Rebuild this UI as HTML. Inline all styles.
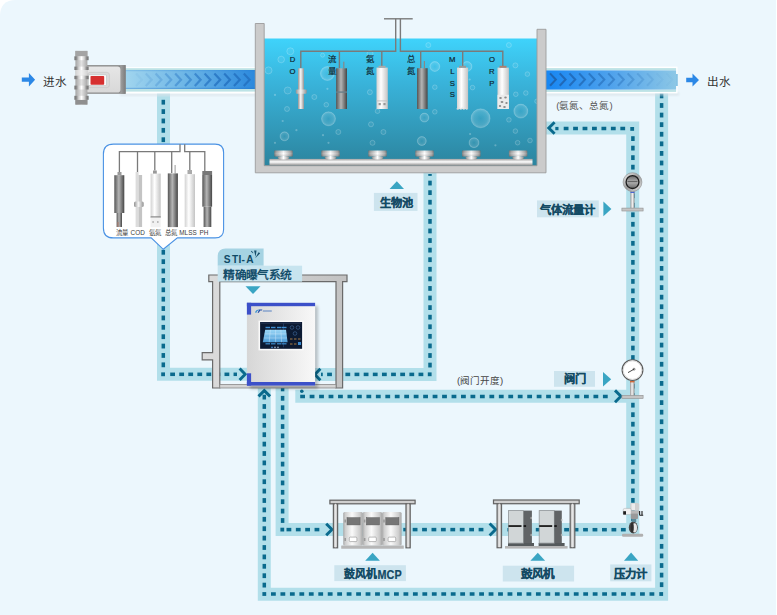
<!DOCTYPE html>
<html lang="zh-CN"><head><meta charset="utf-8">
<style>
html,body{margin:0;padding:0;background:#fff;}
body{width:777px;height:615px;overflow:hidden;position:relative;font-family:"Liberation Sans",sans-serif;}
svg{position:absolute;left:0;top:0;}
</style></head>
<body>
<svg width="777" height="615" viewBox="0 0 777 615" font-family="Liberation Sans, sans-serif">
<defs>
  <linearGradient id="water" x1="0" y1="0" x2="0" y2="1">
    <stop offset="0" stop-color="#3fd3fb"/>
    <stop offset="0.35" stop-color="#39b3da"/>
    <stop offset="1" stop-color="#2c849e"/>
  </linearGradient>
  <linearGradient id="pipeL" x1="0" y1="0" x2="1" y2="0">
    <stop offset="0" stop-color="#a6d8ef"/>
    <stop offset="0.5" stop-color="#6ab4e6"/>
    <stop offset="1" stop-color="#2a88dd"/>
  </linearGradient>
  <linearGradient id="pipeR" x1="0" y1="0" x2="1" y2="0">
    <stop offset="0" stop-color="#1686f3"/>
    <stop offset="0.5" stop-color="#4fa2ec"/>
    <stop offset="1" stop-color="#8cc7e6"/>
  </linearGradient>
  <linearGradient id="metalH" x1="0" y1="0" x2="0" y2="1">
    <stop offset="0" stop-color="#a0a0a0"/>
    <stop offset="0.45" stop-color="#ffffff"/>
    <stop offset="1" stop-color="#8f8f8f"/>
  </linearGradient>
  <linearGradient id="metalV" x1="0" y1="0" x2="1" y2="0">
    <stop offset="0" stop-color="#939393"/>
    <stop offset="0.45" stop-color="#f6f6f6"/>
    <stop offset="1" stop-color="#939393"/>
  </linearGradient>
  <linearGradient id="flangeV" x1="0" y1="0" x2="1" y2="0">
    <stop offset="0" stop-color="#a4a4a4"/>
    <stop offset="0.5" stop-color="#e2e2e2"/>
    <stop offset="1" stop-color="#a8a8a8"/>
  </linearGradient>
  <linearGradient id="unitV" x1="0" y1="0" x2="1" y2="0">
    <stop offset="0" stop-color="#a9a9a9"/>
    <stop offset="0.12" stop-color="#cfcfcf"/>
    <stop offset="0.45" stop-color="#fafafa"/>
    <stop offset="0.85" stop-color="#cdcdcd"/>
    <stop offset="1" stop-color="#a5a5a5"/>
  </linearGradient>
  <linearGradient id="darkV" x1="0" y1="0" x2="1" y2="0">
    <stop offset="0" stop-color="#555"/>
    <stop offset="0.45" stop-color="#b5b5b5"/>
    <stop offset="1" stop-color="#464646"/>
  </linearGradient>
  <linearGradient id="whiteV" x1="0" y1="0" x2="1" y2="0">
    <stop offset="0" stop-color="#d2d2d2"/>
    <stop offset="0.4" stop-color="#ffffff"/>
    <stop offset="1" stop-color="#c4c4c4"/>
  </linearGradient>
  <linearGradient id="cab" x1="0" y1="0" x2="1" y2="0">
    <stop offset="0" stop-color="#d6d6d6"/>
    <stop offset="1" stop-color="#f8f8f8"/>
  </linearGradient>
  <radialGradient id="gaugeRim" cx="0.5" cy="0.5" r="0.5">
    <stop offset="0.8" stop-color="#e0e0e0"/>
    <stop offset="1" stop-color="#707070"/>
  </radialGradient>
  <linearGradient id="ringG" x1="0" y1="0" x2="1" y2="1">
    <stop offset="0" stop-color="#f4f4f4"/>
    <stop offset="0.5" stop-color="#9a9a9a"/>
    <stop offset="1" stop-color="#e8e8e8"/>
  </linearGradient>
  <linearGradient id="faceG" x1="0" y1="0" x2="0" y2="1">
    <stop offset="0" stop-color="#6a6a6a"/>
    <stop offset="0.5" stop-color="#b0b0b0"/>
    <stop offset="1" stop-color="#6a6a6a"/>
  </linearGradient>
  <radialGradient id="bubG" cx="0.5" cy="0.5" r="0.5">
    <stop offset="0" stop-color="#ffffff" stop-opacity="0.02"/>
    <stop offset="0.7" stop-color="#ffffff" stop-opacity="0.12"/>
    <stop offset="1" stop-color="#ffffff" stop-opacity="0.28"/>
  </radialGradient>
  <linearGradient id="ringV" x1="0" y1="0" x2="1" y2="0">
    <stop offset="0" stop-color="#6e6e6e"/>
    <stop offset="0.14" stop-color="#8a8a8a"/>
    <stop offset="0.3" stop-color="#cfcfcf"/>
    <stop offset="0.5" stop-color="#ffffff"/>
    <stop offset="0.7" stop-color="#cfcfcf"/>
    <stop offset="0.86" stop-color="#8a8a8a"/>
    <stop offset="1" stop-color="#6e6e6e"/>
  </linearGradient>
  <linearGradient id="diffSide" x1="0" y1="0" x2="1" y2="0">
    <stop offset="0" stop-color="#606060" stop-opacity="0.6"/>
    <stop offset="0.25" stop-color="#ffffff" stop-opacity="0"/>
    <stop offset="0.75" stop-color="#ffffff" stop-opacity="0"/>
    <stop offset="1" stop-color="#606060" stop-opacity="0.6"/>
  </linearGradient>
  <linearGradient id="diffH" x1="0" y1="0" x2="1" y2="0">
    <stop offset="0" stop-color="#7a7a7a"/>
    <stop offset="0.12" stop-color="#a8a8a8"/>
    <stop offset="0.5" stop-color="#ffffff"/>
    <stop offset="0.88" stop-color="#a8a8a8"/>
    <stop offset="1" stop-color="#7a7a7a"/>
  </linearGradient>
  <linearGradient id="diffV" x1="0" y1="0" x2="0" y2="1">
    <stop offset="0" stop-color="#000" stop-opacity="0.08"/>
    <stop offset="0.5" stop-color="#fff" stop-opacity="0.1"/>
    <stop offset="1" stop-color="#000" stop-opacity="0.15"/>
  </linearGradient>
  <linearGradient id="endG" x1="0" y1="0" x2="1" y2="0"><stop offset="0" stop-color="#a0a0a0"/><stop offset="1" stop-color="#7c7c7c"/></linearGradient>
  <linearGradient id="bodyG" x1="0" y1="0" x2="0" y2="1"><stop offset="0" stop-color="#e6e6e6"/><stop offset="1" stop-color="#d8d8d8"/></linearGradient>
  <filter id="blur" x="-30%" y="-30%" width="160%" height="160%"><feGaussianBlur stdDeviation="1.6"/></filter>
  <filter id="blur1" x="-30%" y="-30%" width="160%" height="160%"><feGaussianBlur stdDeviation="0.8"/></filter>
</defs>

<rect x="0" y="0" width="776" height="615" fill="#ffffff"/>
<path d="M16,0 H776 V615 H0 V16 Q0,0 16,0 Z" fill="#ecf7fd"/>

<g fill="none" stroke="#b2dfea" stroke-width="13" stroke-linejoin="miter" stroke-linecap="square"><path d="M163.50,94.00 L163.50,374.20 L247.00,374.20"/><path d="M430.00,173.00 L430.00,374.50 L315.00,374.50"/><path d="M661.60,92.00 L661.60,594.20 L264.30,594.20 L264.30,390.00"/><path d="M632.70,529.50 L632.70,128.00 L547.00,128.00"/><path d="M282.10,388.00 L282.10,529.50 L632.70,529.50"/><path d="M301.80,396.30 L621.00,396.30"/></g>
<g fill="#0a6a8d"><rect x="161.55" y="99.79" width="3.50" height="4.80"/><rect x="161.55" y="109.17" width="3.50" height="4.80"/><rect x="161.55" y="118.55" width="3.50" height="4.80"/><rect x="161.55" y="127.93" width="3.50" height="4.80"/><rect x="161.55" y="137.31" width="3.50" height="4.80"/><rect x="161.55" y="146.69" width="3.50" height="4.80"/><rect x="161.55" y="156.07" width="3.50" height="4.80"/><rect x="161.55" y="165.45" width="3.50" height="4.80"/><rect x="161.55" y="174.83" width="3.50" height="4.80"/><rect x="161.55" y="184.21" width="3.50" height="4.80"/><rect x="161.55" y="193.59" width="3.50" height="4.80"/><rect x="161.55" y="202.97" width="3.50" height="4.80"/><rect x="161.55" y="212.35" width="3.50" height="4.80"/><rect x="161.55" y="221.73" width="3.50" height="4.80"/><rect x="161.55" y="231.11" width="3.50" height="4.80"/><rect x="161.55" y="240.49" width="3.50" height="4.80"/><rect x="161.55" y="249.87" width="3.50" height="4.80"/><rect x="161.55" y="259.25" width="3.50" height="4.80"/><rect x="161.55" y="268.63" width="3.50" height="4.80"/><rect x="161.55" y="278.01" width="3.50" height="4.80"/><rect x="161.55" y="287.39" width="3.50" height="4.80"/><rect x="161.55" y="296.77" width="3.50" height="4.80"/><rect x="161.55" y="306.15" width="3.50" height="4.80"/><rect x="161.55" y="315.53" width="3.50" height="4.80"/><rect x="161.55" y="324.91" width="3.50" height="4.80"/><rect x="161.55" y="334.29" width="3.50" height="4.80"/><rect x="161.55" y="343.67" width="3.50" height="4.80"/><rect x="161.55" y="353.05" width="3.50" height="4.80"/><rect x="161.55" y="362.43" width="3.50" height="4.80"/><rect x="170.20" y="372.55" width="4.80" height="3.50"/><rect x="179.25" y="372.55" width="4.80" height="3.50"/><rect x="188.30" y="372.55" width="4.80" height="3.50"/><rect x="197.35" y="372.55" width="4.80" height="3.50"/><rect x="206.40" y="372.55" width="4.80" height="3.50"/><rect x="215.45" y="372.55" width="4.80" height="3.50"/><rect x="224.50" y="372.55" width="4.80" height="3.50"/><rect x="233.55" y="372.55" width="3.45" height="3.50"/><rect x="428.25" y="174.00" width="3.50" height="1.88"/><rect x="428.25" y="180.66" width="3.50" height="4.80"/><rect x="428.25" y="190.24" width="3.50" height="4.80"/><rect x="428.25" y="199.82" width="3.50" height="4.80"/><rect x="428.25" y="209.40" width="3.50" height="4.80"/><rect x="428.25" y="218.98" width="3.50" height="4.80"/><rect x="428.25" y="228.56" width="3.50" height="4.80"/><rect x="428.25" y="238.14" width="3.50" height="4.80"/><rect x="428.25" y="247.72" width="3.50" height="4.80"/><rect x="428.25" y="257.30" width="3.50" height="4.80"/><rect x="428.25" y="266.88" width="3.50" height="4.80"/><rect x="428.25" y="276.46" width="3.50" height="4.80"/><rect x="428.25" y="286.04" width="3.50" height="4.80"/><rect x="428.25" y="295.62" width="3.50" height="4.80"/><rect x="428.25" y="305.20" width="3.50" height="4.80"/><rect x="428.25" y="314.78" width="3.50" height="4.80"/><rect x="428.25" y="324.36" width="3.50" height="4.80"/><rect x="428.25" y="333.94" width="3.50" height="4.80"/><rect x="428.25" y="343.52" width="3.50" height="4.80"/><rect x="428.25" y="353.10" width="3.50" height="4.80"/><rect x="428.25" y="362.68" width="3.50" height="4.80"/><rect x="321.00" y="372.65" width="1.78" height="3.50"/><rect x="327.12" y="372.65" width="4.80" height="3.50"/><rect x="336.26" y="372.65" width="4.80" height="3.50"/><rect x="345.40" y="372.65" width="4.80" height="3.50"/><rect x="354.54" y="372.65" width="4.80" height="3.50"/><rect x="363.68" y="372.65" width="4.80" height="3.50"/><rect x="372.82" y="372.65" width="4.80" height="3.50"/><rect x="381.96" y="372.65" width="4.80" height="3.50"/><rect x="391.10" y="372.65" width="4.80" height="3.50"/><rect x="400.24" y="372.65" width="4.80" height="3.50"/><rect x="409.38" y="372.65" width="4.80" height="3.50"/><rect x="418.52" y="372.65" width="4.80" height="3.50"/><rect x="659.85" y="93.50" width="3.50" height="4.80"/><rect x="659.85" y="103.08" width="3.50" height="4.80"/><rect x="659.85" y="112.67" width="3.50" height="4.80"/><rect x="659.85" y="122.25" width="3.50" height="4.80"/><rect x="659.85" y="131.84" width="3.50" height="4.80"/><rect x="659.85" y="141.42" width="3.50" height="4.80"/><rect x="659.85" y="151.00" width="3.50" height="4.80"/><rect x="659.85" y="160.59" width="3.50" height="4.80"/><rect x="659.85" y="170.17" width="3.50" height="4.80"/><rect x="659.85" y="179.76" width="3.50" height="4.80"/><rect x="659.85" y="189.34" width="3.50" height="4.80"/><rect x="659.85" y="198.92" width="3.50" height="4.80"/><rect x="659.85" y="208.51" width="3.50" height="4.80"/><rect x="659.85" y="218.09" width="3.50" height="4.80"/><rect x="659.85" y="227.68" width="3.50" height="4.80"/><rect x="659.85" y="237.26" width="3.50" height="4.80"/><rect x="659.85" y="246.84" width="3.50" height="4.80"/><rect x="659.85" y="256.43" width="3.50" height="4.80"/><rect x="659.85" y="266.01" width="3.50" height="4.80"/><rect x="659.85" y="275.60" width="3.50" height="4.80"/><rect x="659.85" y="285.18" width="3.50" height="4.80"/><rect x="659.85" y="294.76" width="3.50" height="4.80"/><rect x="659.85" y="304.35" width="3.50" height="4.80"/><rect x="659.85" y="313.93" width="3.50" height="4.80"/><rect x="659.85" y="323.52" width="3.50" height="4.80"/><rect x="659.85" y="333.10" width="3.50" height="4.80"/><rect x="659.85" y="342.68" width="3.50" height="4.80"/><rect x="659.85" y="352.27" width="3.50" height="4.80"/><rect x="659.85" y="361.85" width="3.50" height="4.80"/><rect x="659.85" y="371.44" width="3.50" height="4.80"/><rect x="659.85" y="381.02" width="3.50" height="4.80"/><rect x="659.85" y="390.60" width="3.50" height="4.80"/><rect x="659.85" y="400.19" width="3.50" height="4.80"/><rect x="659.85" y="409.77" width="3.50" height="4.80"/><rect x="659.85" y="419.36" width="3.50" height="4.80"/><rect x="659.85" y="428.94" width="3.50" height="4.80"/><rect x="659.85" y="438.52" width="3.50" height="4.80"/><rect x="659.85" y="448.11" width="3.50" height="4.80"/><rect x="659.85" y="457.69" width="3.50" height="4.80"/><rect x="659.85" y="467.28" width="3.50" height="4.80"/><rect x="659.85" y="476.86" width="3.50" height="4.80"/><rect x="659.85" y="486.44" width="3.50" height="4.80"/><rect x="659.85" y="496.03" width="3.50" height="4.80"/><rect x="659.85" y="505.61" width="3.50" height="4.80"/><rect x="659.85" y="515.20" width="3.50" height="4.80"/><rect x="659.85" y="524.78" width="3.50" height="4.80"/><rect x="659.85" y="534.36" width="3.50" height="4.80"/><rect x="659.85" y="543.95" width="3.50" height="4.80"/><rect x="659.85" y="553.53" width="3.50" height="4.80"/><rect x="659.85" y="563.12" width="3.50" height="4.80"/><rect x="659.85" y="572.70" width="3.50" height="4.80"/><rect x="659.85" y="582.28" width="3.50" height="4.80"/><rect x="271.00" y="592.25" width="4.80" height="3.50"/><rect x="280.46" y="592.25" width="4.80" height="3.50"/><rect x="289.93" y="592.25" width="4.80" height="3.50"/><rect x="299.39" y="592.25" width="4.80" height="3.50"/><rect x="308.85" y="592.25" width="4.80" height="3.50"/><rect x="318.31" y="592.25" width="4.80" height="3.50"/><rect x="327.77" y="592.25" width="4.80" height="3.50"/><rect x="337.24" y="592.25" width="4.80" height="3.50"/><rect x="346.70" y="592.25" width="4.80" height="3.50"/><rect x="356.16" y="592.25" width="4.80" height="3.50"/><rect x="365.62" y="592.25" width="4.80" height="3.50"/><rect x="375.09" y="592.25" width="4.80" height="3.50"/><rect x="384.55" y="592.25" width="4.80" height="3.50"/><rect x="394.01" y="592.25" width="4.80" height="3.50"/><rect x="403.48" y="592.25" width="4.80" height="3.50"/><rect x="412.94" y="592.25" width="4.80" height="3.50"/><rect x="422.40" y="592.25" width="4.80" height="3.50"/><rect x="431.86" y="592.25" width="4.80" height="3.50"/><rect x="441.33" y="592.25" width="4.80" height="3.50"/><rect x="450.79" y="592.25" width="4.80" height="3.50"/><rect x="460.25" y="592.25" width="4.80" height="3.50"/><rect x="469.71" y="592.25" width="4.80" height="3.50"/><rect x="479.18" y="592.25" width="4.80" height="3.50"/><rect x="488.64" y="592.25" width="4.80" height="3.50"/><rect x="498.10" y="592.25" width="4.80" height="3.50"/><rect x="507.56" y="592.25" width="4.80" height="3.50"/><rect x="517.02" y="592.25" width="4.80" height="3.50"/><rect x="526.49" y="592.25" width="4.80" height="3.50"/><rect x="535.95" y="592.25" width="4.80" height="3.50"/><rect x="545.41" y="592.25" width="4.80" height="3.50"/><rect x="554.88" y="592.25" width="4.80" height="3.50"/><rect x="564.34" y="592.25" width="4.80" height="3.50"/><rect x="573.80" y="592.25" width="4.80" height="3.50"/><rect x="583.26" y="592.25" width="4.80" height="3.50"/><rect x="592.73" y="592.25" width="4.80" height="3.50"/><rect x="602.19" y="592.25" width="4.80" height="3.50"/><rect x="611.65" y="592.25" width="4.80" height="3.50"/><rect x="621.11" y="592.25" width="4.80" height="3.50"/><rect x="630.58" y="592.25" width="4.80" height="3.50"/><rect x="640.04" y="592.25" width="4.80" height="3.50"/><rect x="649.50" y="592.25" width="4.80" height="3.50"/><rect x="262.55" y="394.70" width="3.50" height="4.80"/><rect x="262.55" y="404.10" width="3.50" height="4.80"/><rect x="262.55" y="413.50" width="3.50" height="4.80"/><rect x="262.55" y="422.90" width="3.50" height="4.80"/><rect x="262.55" y="432.30" width="3.50" height="4.80"/><rect x="262.55" y="441.70" width="3.50" height="4.80"/><rect x="262.55" y="451.10" width="3.50" height="4.80"/><rect x="262.55" y="460.50" width="3.50" height="4.80"/><rect x="262.55" y="469.90" width="3.50" height="4.80"/><rect x="262.55" y="479.30" width="3.50" height="4.80"/><rect x="262.55" y="488.70" width="3.50" height="4.80"/><rect x="262.55" y="498.10" width="3.50" height="4.80"/><rect x="262.55" y="507.50" width="3.50" height="4.80"/><rect x="262.55" y="516.90" width="3.50" height="4.80"/><rect x="262.55" y="526.30" width="3.50" height="4.80"/><rect x="262.55" y="535.70" width="3.50" height="4.80"/><rect x="262.55" y="545.10" width="3.50" height="4.80"/><rect x="262.55" y="554.50" width="3.50" height="4.80"/><rect x="262.55" y="563.90" width="3.50" height="4.80"/><rect x="262.55" y="573.30" width="3.50" height="4.80"/><rect x="262.55" y="582.70" width="3.50" height="4.80"/><rect x="631.15" y="136.20" width="3.50" height="4.80"/><rect x="631.15" y="145.72" width="3.50" height="4.80"/><rect x="631.15" y="155.24" width="3.50" height="4.80"/><rect x="631.15" y="164.76" width="3.50" height="4.80"/><rect x="631.15" y="174.28" width="3.50" height="4.80"/><rect x="631.15" y="183.80" width="3.50" height="4.80"/><rect x="631.15" y="193.32" width="3.50" height="4.80"/><rect x="631.15" y="202.84" width="3.50" height="4.80"/><rect x="631.15" y="212.36" width="3.50" height="4.80"/><rect x="631.15" y="221.88" width="3.50" height="4.80"/><rect x="631.15" y="231.40" width="3.50" height="4.80"/><rect x="631.15" y="240.92" width="3.50" height="4.80"/><rect x="631.15" y="250.44" width="3.50" height="4.80"/><rect x="631.15" y="259.96" width="3.50" height="4.80"/><rect x="631.15" y="269.48" width="3.50" height="4.80"/><rect x="631.15" y="279.00" width="3.50" height="4.80"/><rect x="631.15" y="288.52" width="3.50" height="4.80"/><rect x="631.15" y="298.04" width="3.50" height="4.80"/><rect x="631.15" y="307.56" width="3.50" height="4.80"/><rect x="631.15" y="317.08" width="3.50" height="4.80"/><rect x="631.15" y="326.60" width="3.50" height="4.80"/><rect x="631.15" y="336.12" width="3.50" height="4.80"/><rect x="631.15" y="345.64" width="3.50" height="4.80"/><rect x="631.15" y="355.16" width="3.50" height="4.80"/><rect x="631.15" y="364.68" width="3.50" height="4.80"/><rect x="631.15" y="374.20" width="3.50" height="4.80"/><rect x="631.15" y="383.72" width="3.50" height="4.80"/><rect x="631.15" y="393.24" width="3.50" height="4.80"/><rect x="631.15" y="402.76" width="3.50" height="4.80"/><rect x="631.15" y="412.28" width="3.50" height="4.80"/><rect x="631.15" y="421.80" width="3.50" height="4.80"/><rect x="631.15" y="431.32" width="3.50" height="4.80"/><rect x="631.15" y="440.84" width="3.50" height="4.80"/><rect x="631.15" y="450.36" width="3.50" height="4.80"/><rect x="631.15" y="459.88" width="3.50" height="4.80"/><rect x="631.15" y="469.40" width="3.50" height="4.80"/><rect x="631.15" y="478.92" width="3.50" height="4.80"/><rect x="631.15" y="488.44" width="3.50" height="4.80"/><rect x="631.15" y="497.96" width="3.50" height="4.80"/><rect x="631.15" y="507.48" width="3.50" height="4.80"/><rect x="631.15" y="517.00" width="3.50" height="4.00"/><rect x="563.70" y="126.75" width="4.80" height="3.50"/><rect x="573.14" y="126.75" width="4.80" height="3.50"/><rect x="582.58" y="126.75" width="4.80" height="3.50"/><rect x="592.02" y="126.75" width="4.80" height="3.50"/><rect x="601.46" y="126.75" width="4.80" height="3.50"/><rect x="610.90" y="126.75" width="4.80" height="3.50"/><rect x="620.34" y="126.75" width="4.80" height="3.50"/><rect x="280.85" y="386.50" width="3.50" height="4.80"/><rect x="280.85" y="395.90" width="3.50" height="4.80"/><rect x="280.85" y="405.30" width="3.50" height="4.80"/><rect x="280.85" y="414.70" width="3.50" height="4.80"/><rect x="280.85" y="424.10" width="3.50" height="4.80"/><rect x="280.85" y="433.50" width="3.50" height="4.80"/><rect x="280.85" y="442.90" width="3.50" height="4.80"/><rect x="280.85" y="452.30" width="3.50" height="4.80"/><rect x="280.85" y="461.70" width="3.50" height="4.80"/><rect x="280.85" y="471.10" width="3.50" height="4.80"/><rect x="280.85" y="480.50" width="3.50" height="4.80"/><rect x="280.85" y="489.90" width="3.50" height="4.80"/><rect x="280.85" y="499.30" width="3.50" height="4.80"/><rect x="280.85" y="508.70" width="3.50" height="4.80"/><rect x="280.85" y="518.10" width="3.50" height="4.80"/><rect x="286.50" y="527.85" width="4.80" height="3.50"/><rect x="295.85" y="527.85" width="4.80" height="3.50"/><rect x="305.20" y="527.85" width="4.80" height="3.50"/><rect x="314.55" y="527.85" width="4.80" height="3.50"/><rect x="403.26" y="527.85" width="4.80" height="3.50"/><rect x="412.68" y="527.85" width="4.80" height="3.50"/><rect x="422.10" y="527.85" width="4.80" height="3.50"/><rect x="431.52" y="527.85" width="4.80" height="3.50"/><rect x="440.94" y="527.85" width="4.80" height="3.50"/><rect x="450.36" y="527.85" width="4.80" height="3.50"/><rect x="459.78" y="527.85" width="4.80" height="3.50"/><rect x="469.20" y="527.85" width="4.80" height="3.50"/><rect x="478.62" y="527.85" width="4.80" height="3.50"/><rect x="507.42" y="527.95" width="4.80" height="3.50"/><rect x="516.88" y="527.95" width="4.80" height="3.50"/><rect x="526.34" y="527.95" width="4.80" height="3.50"/><rect x="535.80" y="527.95" width="4.80" height="3.50"/><rect x="545.26" y="527.95" width="4.80" height="3.50"/><rect x="554.72" y="527.95" width="4.80" height="3.50"/><rect x="564.18" y="527.95" width="4.80" height="3.50"/><rect x="573.64" y="527.95" width="4.80" height="3.50"/><rect x="583.10" y="527.95" width="4.80" height="3.50"/><rect x="592.56" y="527.95" width="4.80" height="3.50"/><rect x="602.02" y="527.95" width="4.80" height="3.50"/><rect x="611.48" y="527.95" width="4.80" height="3.50"/><rect x="620.94" y="527.95" width="4.80" height="3.50"/><rect x="300.20" y="394.75" width="4.80" height="3.50"/><rect x="309.66" y="394.75" width="4.80" height="3.50"/><rect x="319.12" y="394.75" width="4.80" height="3.50"/><rect x="328.58" y="394.75" width="4.80" height="3.50"/><rect x="338.04" y="394.75" width="4.80" height="3.50"/><rect x="347.50" y="394.75" width="4.80" height="3.50"/><rect x="356.96" y="394.75" width="4.80" height="3.50"/><rect x="366.42" y="394.75" width="4.80" height="3.50"/><rect x="375.88" y="394.75" width="4.80" height="3.50"/><rect x="385.34" y="394.75" width="4.80" height="3.50"/><rect x="394.80" y="394.75" width="4.80" height="3.50"/><rect x="404.26" y="394.75" width="4.80" height="3.50"/><rect x="413.72" y="394.75" width="4.80" height="3.50"/><rect x="423.18" y="394.75" width="4.80" height="3.50"/><rect x="432.64" y="394.75" width="4.80" height="3.50"/><rect x="442.10" y="394.75" width="4.80" height="3.50"/><rect x="451.56" y="394.75" width="4.80" height="3.50"/><rect x="461.02" y="394.75" width="4.80" height="3.50"/><rect x="470.48" y="394.75" width="4.80" height="3.50"/><rect x="479.94" y="394.75" width="4.80" height="3.50"/><rect x="489.40" y="394.75" width="4.80" height="3.50"/><rect x="498.86" y="394.75" width="4.80" height="3.50"/><rect x="508.32" y="394.75" width="4.80" height="3.50"/><rect x="517.78" y="394.75" width="4.80" height="3.50"/><rect x="527.24" y="394.75" width="4.80" height="3.50"/><rect x="536.70" y="394.75" width="4.80" height="3.50"/><rect x="546.16" y="394.75" width="4.80" height="3.50"/><rect x="555.62" y="394.75" width="4.80" height="3.50"/><rect x="565.08" y="394.75" width="4.80" height="3.50"/><rect x="574.54" y="394.75" width="4.80" height="3.50"/><rect x="584.00" y="394.75" width="4.80" height="3.50"/><rect x="593.46" y="394.75" width="4.80" height="3.50"/><rect x="602.92" y="394.75" width="4.80" height="3.50"/><rect x="161.20" y="372.40" width="3.8" height="3.8"/><rect x="427.80" y="372.40" width="3.8" height="3.8"/><rect x="659.30" y="592.10" width="3.8" height="3.8"/><rect x="262.40" y="592.10" width="3.8" height="3.8"/><rect x="630.30" y="127.00" width="3.8" height="3.8"/><rect x="280.40" y="527.70" width="3.8" height="3.8"/><rect x="555.3" y="126.9" width="3.2" height="3.3"/></g>
<g fill="none" stroke="#0a6a8d" stroke-width="2.9" stroke-linejoin="miter">
  <path d="M239.6,368.4 L245.2,374.2 L239.6,380"/>
  <path d="M320.4,368.7 L314.8,374.5 L320.4,380.3"/>
  <path d="M258.5,396.4 L264.3,390.6 L270.1,396.4"/>
  <path d="M554.6,122.2 L548.8,128 L554.6,133.8"/>
  <path d="M326.2,523.7 L332,529.5 L326.2,535.3"/>
  <path d="M489.6,523.5 L495.6,529.5 L489.6,535.5"/>
  <path d="M615,390.4 L620.9,396.3 L615,402.2"/>
</g>
<circle cx="301.8" cy="391.2" r="1.8" fill="#0a6a8d"/>


<g id="pipeLeft">
  <rect x="120" y="93" width="136" height="3" fill="#dbe4ea" opacity="0.7" filter="url(#blur1)"/>
  <rect x="120" y="67.2" width="136" height="26.3" fill="#ffffff"/>
  <rect x="120" y="68.2" width="136" height="1.9" fill="#bde3e6"/>
  <rect x="120" y="89" width="136" height="2.6" fill="#bde3e6"/>
  <rect x="120" y="70" width="136" height="19" fill="url(#pipeL)"/>
  <rect x="120" y="70" width="136" height="1.2" fill="#1f78d0" opacity="0.2"/>
  <rect x="120" y="87.8" width="136" height="1.2" fill="#1f70c8" opacity="0.35"/>
  <g stroke="#2370c0" fill="none" stroke-width="2.2" opacity="0.8"><path d="M136.0,73.6 L141.8,79.8 L136.0,86" opacity="0.08"/><path d="M145.8,73.6 L151.6,79.8 L145.8,86" opacity="0.19"/><path d="M155.6,73.6 L161.4,79.8 L155.6,86" opacity="0.30"/><path d="M165.4,73.6 L171.2,79.8 L165.4,86" opacity="0.41"/><path d="M175.2,73.6 L181.0,79.8 L175.2,86" opacity="0.52"/><path d="M185.0,73.6 L190.8,79.8 L185.0,86" opacity="0.63"/><path d="M194.8,73.6 L200.6,79.8 L194.8,86" opacity="0.74"/><path d="M204.6,73.6 L210.4,79.8 L204.6,86" opacity="0.85"/><path d="M214.4,73.6 L220.2,79.8 L214.4,86" opacity="0.96"/><path d="M224.2,73.6 L230.0,79.8 L224.2,86" opacity="1.00"/><path d="M234.0,73.6 L239.8,79.8 L234.0,86" opacity="1.00"/><path d="M243.8,73.6 L249.6,79.8 L243.8,86" opacity="1.00"/></g>
</g>
<g id="pipeRight">
  <rect x="546" y="92.5" width="133" height="3" fill="#d6e0e6" opacity="0.7" filter="url(#blur1)"/>
  <rect x="546" y="66.6" width="131.5" height="26.8" fill="#ffffff"/>
  <rect x="546" y="68.1" width="130.1" height="2.3" fill="#bde3e6"/>
  <rect x="546" y="89.6" width="130.1" height="2.3" fill="#bde3e6"/>
  <rect x="546" y="70.4" width="130.1" height="19.2" fill="url(#pipeR)"/>
  <rect x="676" y="74" width="1.8" height="12" fill="#86c2e4"/>
  <g stroke="#1f62ac" fill="none" stroke-width="2.1" opacity="0.9"><path d="M550.0,73.4 L555.8,79.6 L550.0,85.8" opacity="1.00"/><path d="M559.7,73.4 L565.5,79.6 L559.7,85.8" opacity="0.92"/><path d="M569.4,73.4 L575.2,79.6 L569.4,85.8" opacity="0.83"/><path d="M579.1,73.4 L584.9,79.6 L579.1,85.8" opacity="0.74"/><path d="M588.8,73.4 L594.6,79.6 L588.8,85.8" opacity="0.66"/><path d="M598.5,73.4 L604.3,79.6 L598.5,85.8" opacity="0.57"/><path d="M608.2,73.4 L614.0,79.6 L608.2,85.8" opacity="0.49"/><path d="M617.9,73.4 L623.7,79.6 L617.9,85.8" opacity="0.40"/><path d="M627.6,73.4 L633.4,79.6 L627.6,85.8" opacity="0.32"/><path d="M637.3,73.4 L643.1,79.6 L637.3,85.8" opacity="0.23"/><path d="M647.0,73.4 L652.8,79.6 L647.0,85.8" opacity="0.15"/><path d="M656.7,73.4 L662.5,79.6 L656.7,85.8" opacity="0.06"/><path d="M666.4,73.4 L672.2,79.6 L666.4,85.8" opacity="0.04"/></g>
</g>


<g id="intake">
  <rect x="86" y="65.1" width="39.6" height="28.7" fill="#8c8c8c"/>
  <rect x="120.4" y="65.1" width="5.2" height="28.7" fill="url(#endG)"/>
  <path d="M86,66.6 H117.5 Q120.4,66.6 120.4,69.5 V89.8 Q120.4,92.6 117.5,92.6 H86 Z" fill="url(#bodyG)"/>
  <rect x="87.6" y="72.4" width="21.8" height="15.2" rx="2.5" fill="#dadada" stroke="#c4c4c4" stroke-width="0.6"/>
  <rect x="88.6" y="75" width="17.5" height="10.4" fill="#ffffff" stroke="#9aa" stroke-width="0.3"/>
  <rect x="90.5" y="75.9" width="13.7" height="8.8" rx="0.8" fill="#d63030"/>
  <rect x="75.4" y="50.9" width="12" height="53.7" fill="url(#flangeV)"/>
  <rect x="75.4" y="50.9" width="12" height="5.4" fill="#a4a4a4"/>
  <rect x="75.4" y="99.8" width="12" height="4.8" fill="#8f8f8f"/>
  <rect x="75.4" y="70" width="12" height="5.8" fill="#ffffff" opacity="0.5"/>
  <g>
<rect x="74.4" y="56.3" width="14.2" height="3.9" fill="url(#ringV)"/><rect x="74.4" y="66.6" width="14.2" height="3.4" fill="url(#ringV)"/><rect x="74.4" y="75.8" width="14.2" height="3.4" fill="url(#ringV)"/><rect x="74.4" y="85.6" width="14.2" height="3.9" fill="url(#ringV)"/><rect x="74.4" y="95.8" width="14.2" height="4.0" fill="url(#ringV)"/></g></g>

<path d="M21.8,77.4 H28.9 V73.1 L35.1,79.8 L28.9,86.6 V81.8 H21.8 Z" fill="#2c88e6"/>
<text x="42.8" y="85.8" font-size="11.6" fill="#333">进水</text>
<path d="M686.2,77.8 H692.5 V73.6 L699,80 L692.5,86.4 V82.2 H686.2 Z" fill="#2c88e6"/>
<text x="707.3" y="85.8" font-size="11.6" fill="#333">出水</text>
<text x="556.3" y="108.6" font-size="9.6" fill="#555">(氨氮、总氮)</text>


<g id="tank">
  <rect x="264" y="38.5" width="273" height="127.5" fill="url(#water)"/>
  <circle cx="327.4" cy="73.5" r="7" fill="url(#bubG)" stroke="#ffffff" stroke-opacity="0.18" stroke-width="0.8"/><circle cx="328.5" cy="118.8" r="7" fill="url(#bubG)" stroke="#ffffff" stroke-opacity="0.18" stroke-width="0.8"/><circle cx="284.5" cy="136.3" r="4.5" fill="url(#bubG)" stroke="#ffffff" stroke-opacity="0.18" stroke-width="0.8"/><circle cx="434.8" cy="66.5" r="5" fill="url(#bubG)" stroke="#ffffff" stroke-opacity="0.18" stroke-width="0.8"/><circle cx="467" cy="66.5" r="5" fill="url(#bubG)" stroke="#ffffff" stroke-opacity="0.18" stroke-width="0.8"/><circle cx="424.4" cy="117.6" r="4.5" fill="url(#bubG)" stroke="#ffffff" stroke-opacity="0.18" stroke-width="0.8"/><circle cx="480.6" cy="118.3" r="9.5" fill="url(#bubG)" stroke="#ffffff" stroke-opacity="0.18" stroke-width="0.8"/><circle cx="421.8" cy="141" r="4.5" fill="url(#bubG)" stroke="#ffffff" stroke-opacity="0.18" stroke-width="0.8"/><circle cx="474" cy="142.7" r="5" fill="url(#bubG)" stroke="#ffffff" stroke-opacity="0.18" stroke-width="0.8"/><circle cx="520.8" cy="111.1" r="7" fill="url(#bubG)" stroke="#ffffff" stroke-opacity="0.18" stroke-width="0.8"/><circle cx="290.3" cy="51.3" r="3.5" fill="#ffffff" fill-opacity="0.06" stroke="#ffffff" stroke-opacity="0.22" stroke-width="0.9"/><circle cx="281.2" cy="59.5" r="3.3" fill="#ffffff" fill-opacity="0.06" stroke="#ffffff" stroke-opacity="0.22" stroke-width="0.9"/><circle cx="268.5" cy="70.4" r="3.5" fill="#ffffff" fill-opacity="0.06" stroke="#ffffff" stroke-opacity="0.22" stroke-width="0.9"/><circle cx="287.7" cy="90.5" r="3.5" fill="#ffffff" fill-opacity="0.06" stroke="#ffffff" stroke-opacity="0.22" stroke-width="0.9"/><circle cx="314.3" cy="97" r="2.5" fill="#ffffff" fill-opacity="0.06" stroke="#ffffff" stroke-opacity="0.22" stroke-width="0.9"/><circle cx="287" cy="109" r="2.5" fill="#ffffff" fill-opacity="0.06" stroke="#ffffff" stroke-opacity="0.22" stroke-width="0.9"/><circle cx="326.3" cy="104.7" r="2.3" fill="#ffffff" fill-opacity="0.06" stroke="#ffffff" stroke-opacity="0.22" stroke-width="0.9"/><circle cx="338.3" cy="132" r="2.5" fill="#ffffff" fill-opacity="0.06" stroke="#ffffff" stroke-opacity="0.22" stroke-width="0.9"/><circle cx="369.9" cy="92.2" r="2.5" fill="#ffffff" fill-opacity="0.06" stroke="#ffffff" stroke-opacity="0.22" stroke-width="0.9"/><circle cx="371" cy="124.3" r="2.5" fill="#ffffff" fill-opacity="0.06" stroke="#ffffff" stroke-opacity="0.22" stroke-width="0.9"/><circle cx="383.4" cy="132" r="2.5" fill="#ffffff" fill-opacity="0.06" stroke="#ffffff" stroke-opacity="0.22" stroke-width="0.9"/><circle cx="372.5" cy="142.8" r="2.5" fill="#ffffff" fill-opacity="0.06" stroke="#ffffff" stroke-opacity="0.22" stroke-width="0.9"/><circle cx="377.5" cy="111.2" r="2.3" fill="#ffffff" fill-opacity="0.06" stroke="#ffffff" stroke-opacity="0.22" stroke-width="0.9"/><circle cx="370" cy="53.4" r="3" fill="#ffffff" fill-opacity="0.06" stroke="#ffffff" stroke-opacity="0.22" stroke-width="0.9"/><circle cx="322.6" cy="55.2" r="2" fill="#ffffff" fill-opacity="0.06" stroke="#ffffff" stroke-opacity="0.22" stroke-width="0.9"/><circle cx="428.3" cy="45.1" r="2.5" fill="#ffffff" fill-opacity="0.06" stroke="#ffffff" stroke-opacity="0.22" stroke-width="0.9"/><circle cx="434.8" cy="87.2" r="2.3" fill="#ffffff" fill-opacity="0.06" stroke="#ffffff" stroke-opacity="0.22" stroke-width="0.9"/><circle cx="472.5" cy="87.6" r="2.3" fill="#ffffff" fill-opacity="0.06" stroke="#ffffff" stroke-opacity="0.22" stroke-width="0.9"/><circle cx="434.8" cy="111.8" r="2.3" fill="#ffffff" fill-opacity="0.06" stroke="#ffffff" stroke-opacity="0.22" stroke-width="0.9"/><circle cx="508.9" cy="119.8" r="2.3" fill="#ffffff" fill-opacity="0.06" stroke="#ffffff" stroke-opacity="0.22" stroke-width="0.9"/><circle cx="515.4" cy="131.1" r="2.3" fill="#ffffff" fill-opacity="0.06" stroke="#ffffff" stroke-opacity="0.22" stroke-width="0.9"/><circle cx="517.6" cy="142.7" r="2.3" fill="#ffffff" fill-opacity="0.06" stroke="#ffffff" stroke-opacity="0.22" stroke-width="0.9"/><circle cx="530" cy="140.5" r="2.3" fill="#ffffff" fill-opacity="0.06" stroke="#ffffff" stroke-opacity="0.22" stroke-width="0.9"/><circle cx="515.4" cy="65.4" r="2.5" fill="#ffffff" fill-opacity="0.06" stroke="#ffffff" stroke-opacity="0.22" stroke-width="0.9"/><circle cx="527.4" cy="74.1" r="2.3" fill="#ffffff" fill-opacity="0.06" stroke="#ffffff" stroke-opacity="0.22" stroke-width="0.9"/><circle cx="515.8" cy="94.3" r="2.3" fill="#ffffff" fill-opacity="0.06" stroke="#ffffff" stroke-opacity="0.22" stroke-width="0.9"/><circle cx="525.8" cy="93" r="2.3" fill="#ffffff" fill-opacity="0.06" stroke="#ffffff" stroke-opacity="0.22" stroke-width="0.9"/><circle cx="508.9" cy="45.1" r="2.5" fill="#ffffff" fill-opacity="0.06" stroke="#ffffff" stroke-opacity="0.22" stroke-width="0.9"/><circle cx="537" cy="101.3" r="2.3" fill="#ffffff" fill-opacity="0.06" stroke="#ffffff" stroke-opacity="0.22" stroke-width="0.9"/><circle cx="275" cy="94.9" r="1.1" fill="#ffffff" fill-opacity="0.25"/><circle cx="327.4" cy="88.8" r="1.1" fill="#ffffff" fill-opacity="0.25"/><circle cx="275" cy="142.8" r="1.1" fill="#ffffff" fill-opacity="0.25"/><circle cx="282.7" cy="121" r="1.1" fill="#ffffff" fill-opacity="0.25"/><circle cx="296.4" cy="130.2" r="1.1" fill="#ffffff" fill-opacity="0.25"/><circle cx="323" cy="135.2" r="1.1" fill="#ffffff" fill-opacity="0.25"/><circle cx="328.5" cy="142.8" r="1.1" fill="#ffffff" fill-opacity="0.25"/><circle cx="470.1" cy="134" r="1.1" fill="#ffffff" fill-opacity="0.25"/><circle cx="495.4" cy="145.3" r="1.1" fill="#ffffff" fill-opacity="0.25"/><circle cx="469.7" cy="79.5" r="1.1" fill="#ffffff" fill-opacity="0.25"/>
  <path d="M255.3,23.5 H264.2 V165.7 H537 V29.3 H546 V172.8 H255.3 Z" fill="#cbcbcb" stroke="#9c9c9c" stroke-width="0.9"/>
  <g stroke="#7a7a7a" stroke-width="1.4" fill="none">
    <path d="M384,18.8 H412.7"/>
    <path d="M395.7,18.8 V51.3 H300.8 V68"/>
    <path d="M400.4,18.8 V51.3 H502.8 V67"/>
    <path d="M339.4,51.3 V68"/>
    <path d="M381.8,51.3 V67"/>
    <path d="M420.7,51.3 V68"/>
    <path d="M462.7,51.3 V67"/>
  </g>
  <rect x="298" y="68.3" width="6" height="40.7" fill="url(#metalV)"/>
  <rect x="295.8" y="89.4" width="10.9" height="4.4" rx="1" fill="url(#metalV)"/>
  <rect x="336.1" y="68.3" width="10.9" height="40.7" fill="url(#darkV)"/>
  <rect x="336.1" y="91.4" width="10.9" height="1.4" fill="#6a7f88"/>
  <rect x="343.2" y="61.7" width="1.2" height="6.6" fill="#888"/>
  <rect x="376.5" y="67.6" width="11.3" height="41.4" fill="url(#whiteV)"/>
  <rect x="378.5" y="65.8" width="7" height="2" fill="#aaa"/>
  <rect x="376.5" y="100.5" width="11.3" height="0.8" fill="#bbb"/>
  <rect x="378.6" y="103" width="2.2" height="2.2" fill="#999"/><rect x="383.4" y="103" width="2.2" height="2.2" fill="#999"/>
  <rect x="417" y="68.2" width="10.6" height="40.8" fill="url(#darkV)"/>
  <rect x="423.8" y="61" width="1.2" height="7.2" fill="#888"/>
  <rect x="457" y="67.6" width="11.1" height="41.4" fill="url(#whiteV)"/>
  <rect x="459" y="65.8" width="7" height="2" fill="#999"/>
  <path d="M457,108 v1.5 h1.5 v-1.5 h1.5 v1.5 h1.5 v-1.5 h1.5 v1.5 h1.5 v-1.5 h1.5 v1.5 h1.6" stroke="#ddd" fill="none" stroke-width="0.6"/>
  <rect x="497.5" y="67.6" width="11.4" height="41.4" fill="url(#whiteV)"/>
  <rect x="499.5" y="65.8" width="7" height="2" fill="#b08070"/>
  <rect x="497.5" y="94.8" width="11.4" height="14.2" fill="#ebebeb"/>
  <g fill="#8a8a8a"><ellipse cx="500.5" cy="98" rx="1.3" ry="0.9"/><ellipse cx="505.5" cy="97.5" rx="1.3" ry="0.9"/><ellipse cx="502" cy="102" rx="1.4" ry="1"/><ellipse cx="506.5" cy="103" rx="1.2" ry="0.9"/><ellipse cx="500" cy="106" rx="1.2" ry="0.9"/><ellipse cx="504.5" cy="107" rx="1.3" ry="0.9"/></g>
  <g font-size="7.7" fill="#0d2630" text-anchor="middle" stroke="#0d2630" stroke-width="0.2">
    <text x="292.5" y="62">D</text><text x="292.5" y="74">O</text>
    <text x="452.3" y="62">M</text><text x="452.3" y="74">L</text><text x="452.3" y="85.5">S</text><text x="452.3" y="96.5">S</text>
    <text x="491.9" y="62">O</text><text x="491.9" y="74">R</text><text x="491.9" y="85.5">P</text>
  </g>
  <g font-size="8.4" fill="#0d2630" text-anchor="middle" font-weight="500" stroke="#0d2630" stroke-width="0.15">
    <text x="332" y="62">流</text><text x="332" y="74">量</text>
    <text x="370.3" y="62">氨</text><text x="370.3" y="74">氮</text>
    <text x="410.9" y="62">总</text><text x="410.9" y="74">氮</text>
  </g>
  <rect x="269.5" y="158.9" width="263" height="6.6" fill="url(#metalH)"/>
  <rect x="274.3" y="150.4" width="18.4" height="6.2" rx="0.6" fill="url(#diffH)"/><rect x="274.3" y="150.4" width="18.4" height="6.2" fill="url(#diffV)"/><ellipse cx="283.5" cy="157.8" rx="6" ry="1.8" fill="url(#diffH)"/><rect x="321.3" y="150.4" width="18.4" height="6.2" rx="0.6" fill="url(#diffH)"/><rect x="321.3" y="150.4" width="18.4" height="6.2" fill="url(#diffV)"/><ellipse cx="330.5" cy="157.8" rx="6" ry="1.8" fill="url(#diffH)"/><rect x="368.3" y="150.4" width="18.4" height="6.2" rx="0.6" fill="url(#diffH)"/><rect x="368.3" y="150.4" width="18.4" height="6.2" fill="url(#diffV)"/><ellipse cx="377.5" cy="157.8" rx="6" ry="1.8" fill="url(#diffH)"/><rect x="415.3" y="150.4" width="18.4" height="6.2" rx="0.6" fill="url(#diffH)"/><rect x="415.3" y="150.4" width="18.4" height="6.2" fill="url(#diffV)"/><ellipse cx="424.5" cy="157.8" rx="6" ry="1.8" fill="url(#diffH)"/><rect x="462.1" y="150.4" width="18.4" height="6.2" rx="0.6" fill="url(#diffH)"/><rect x="462.1" y="150.4" width="18.4" height="6.2" fill="url(#diffV)"/><ellipse cx="471.3" cy="157.8" rx="6" ry="1.8" fill="url(#diffH)"/><rect x="508.9" y="150.4" width="18.4" height="6.2" rx="0.6" fill="url(#diffH)"/><rect x="508.9" y="150.4" width="18.4" height="6.2" fill="url(#diffV)"/><ellipse cx="518.1" cy="157.8" rx="6" ry="1.8" fill="url(#diffH)"/>
</g>


<g id="callout">
  <path d="M113.4,144.1 H215.1 Q223.6,144.1 223.6,152.6 V229.4 Q223.6,237.9 215.1,237.9 H177.4 L163.3,249.3 L151.2,237.9 H113.4 Q103.4,237.9 103.4,227.9 V154.1 Q103.4,144.1 113.4,144.1 Z" fill="#ffffff" stroke="#4a92e4" stroke-width="1.1"/>
  <g stroke="#7a7a7a" stroke-width="1.3" fill="none">
    <path d="M180,144.3 V151.6 H119.4 V172"/>
    <path d="M184.7,144.3 V151.6 H204.8 V171"/>
    <path d="M137.5,151.6 V172"/>
    <path d="M154.8,151.6 V170.5"/>
    <path d="M171.7,151.6 V173"/>
    <path d="M189.8,151.6 V170"/>
  </g>
  <rect x="117.5" y="172" width="4" height="3.5" fill="#999"/>
  <rect x="114.3" y="175.2" width="10" height="37.8" fill="url(#darkV)"/>
  <rect x="116.6" y="213" width="5.4" height="14" fill="url(#darkV)"/>
  <rect x="117.5" y="222" width="1" height="5" fill="#b07a6a"/>
  <rect x="135.6" y="172" width="3" height="55" fill="#dcdcdc"/>
  <rect x="138.6" y="175" width="3.5" height="52" fill="#c4c4c4"/>
  <rect x="134" y="201.4" width="9.7" height="5.5" rx="1.5" fill="url(#metalV)"/>
  <rect x="153" y="170.5" width="3.8" height="4" fill="#999"/>
  <rect x="150.6" y="173.6" width="10.1" height="44" fill="url(#whiteV)"/>
  <rect x="150.6" y="216.3" width="10.1" height="1.4" fill="#888"/>
  <rect x="150.6" y="217.7" width="10.1" height="9.5" fill="#f1f1f1"/>
  <rect x="152.3" y="221" width="1.6" height="2" fill="#bbb"/><rect x="157" y="221" width="1.6" height="2" fill="#bbb"/>
  <rect x="174.6" y="165" width="1" height="8.5" fill="#999"/>
  <rect x="167.8" y="173.4" width="10.1" height="53.7" fill="url(#darkV)"/>
  <rect x="187.5" y="170" width="4.5" height="4.2" fill="#aaa"/>
  <rect x="184.7" y="174.2" width="10.3" height="52.8" fill="url(#whiteV)"/>
  <rect x="202.3" y="171" width="9.8" height="4" fill="#777"/>
  <rect x="202.3" y="175" width="9.8" height="31.7" fill="url(#darkV)"/>
  <rect x="203.6" y="206.7" width="7.7" height="20.3" fill="url(#darkV)"/>
  <g font-size="6.4" fill="#3a3a3a" text-anchor="middle">
    <text x="121.6" y="234.8">流量</text>
    <text x="137.7" y="234.8">COD</text>
    <text x="154.7" y="234.8">氨氮</text>
    <text x="171" y="234.8">总氮</text>
    <text x="188" y="234.8">MLSS</text>
    <text x="204" y="234.8">PH</text>
  </g>
</g>


<linearGradient id="pipeG" x1="0" y1="0" x2="1" y2="0"><stop offset="0" stop-color="#dcdcdc"/><stop offset="1" stop-color="#c2c2c2"/></linearGradient>
<g id="frame" fill="url(#pipeG)" stroke="#6a6a6a" stroke-width="1.2">
  <path d="M208.8,275 H347 V281.6 H342.6 V388 H336 V281.6 H219.8 V388 H212.6 V359.8 H202.2 V352.6 H212.6 V281.6 H208.8 Z"/>
  <rect x="219.8" y="384.4" width="116.2" height="3.6" fill="#d4d4d4" stroke="#8a8a8a" stroke-width="0.8"/>
</g>


<g id="stia">
  <path d="M225.7,248.5 H263.6 V265.7 H217.7 V256.5 Q217.7,248.5 225.7,248.5 Z" fill="#a5d3e3"/>
  <rect x="217.7" y="265.7" width="84.4" height="15.9" fill="#c7e4ef"/>
  <g font-size="11.8" font-weight="bold" fill="#104a66"><text transform="translate(223.83,262.5) scale(0.86,1)" x="0.00" y="0">S</text><text transform="translate(231.98,262.5) scale(0.86,1)" x="0.00" y="0">T</text><text transform="translate(238.45,262.5) scale(0.86,1)" x="0.00" y="0">I</text><text transform="translate(241.51,262.5) scale(0.86,1)" x="0.00" y="0">-</text><text transform="translate(246.16,262.5) scale(0.86,1)" x="0.00" y="0">A</text></g>
  <g fill="#154f6b">
    <path d="M250.9,251.6 L251.7,250.8 L253.4,252.9 L252.9,253.3 Z"/>
    <path d="M254.1,250.6 H256.5 L255.6,256.8 Z"/>
    <path d="M260.2,253.3 L258.6,252.2 L255.2,258.2 Z"/>
  </g>
  <text x="223.4" y="279" font-size="11.4" font-weight="bold" fill="#154f6b" textLength="68" lengthAdjust="spacingAndGlyphs">精确曝气系统</text>
  <path d="M245.5,286.3 H260.5 L253,294 Z" fill="#3aa5c3"/>
</g>


<g id="cabinet">
  <rect x="250" y="306" width="68" height="83" fill="#000" opacity="0.22" filter="url(#blur)"/>
  <rect x="246.9" y="302.8" width="68.2" height="82.8" fill="url(#cab)"/>
  <rect x="246.9" y="302.8" width="68.2" height="3.4" fill="#3c50c9"/>
  <rect x="246.9" y="382" width="68.2" height="3.6" fill="#3c50c9"/>
  <rect x="246.9" y="302.8" width="4.2" height="11.8" fill="#3c50c9"/>
  <rect x="246.9" y="373.3" width="4.2" height="12.3" fill="#3c50c9"/>
  <path d="M255,312.5 Q256,309.5 259.5,309.6 L258,310.6 Q256.7,311 256.4,312.8 Z" fill="#2a8ad0"/>
  <path d="M257.5,312.8 L259.2,309.5 H262.4 L261.8,310.4 H260.2 L258.8,312.8 Z" fill="#1f4aa8"/>
  <rect x="262.8" y="310.2" width="9" height="1.6" fill="#6a8fc8" opacity="0.7"/>
  <rect x="258.5" y="320.6" width="45.4" height="29.8" fill="#fafafa"/>
  <rect x="260.1" y="322" width="42" height="26.8" fill="#0c1a32"/>
  <rect x="283.2" y="323.3" width="0.6" height="24" fill="#2a4a7a"/>
  <linearGradient id="scrG" x1="0" y1="0" x2="0" y2="1"><stop offset="0" stop-color="#9ad6f6"/><stop offset="1" stop-color="#4f9ed8"/></linearGradient>
  <path d="M262.8,342.2 L265.2,329.8 H286 L287.6,342.2 Z" fill="url(#scrG)"/>
  <g stroke="#d8f0ff" stroke-width="0.45" fill="none" opacity="0.9">
    <path d="M270.4,329.8 L269.2,342.2"/><path d="M275.6,329.8 V342.2"/><path d="M280.8,329.8 L281.6,342.2"/>
    <path d="M264.6,333.9 H286.5"/><path d="M263.8,338 H287"/>
  </g>
  <g fill="#3e8ed0"><rect x="265.5" y="326.8" width="4.5" height="1.4"/><rect x="271" y="326.8" width="4.5" height="1.4"/><rect x="277" y="326.8" width="4.5" height="1.4"/><rect x="282" y="326.8" width="4.5" height="1.4"/>
  <rect x="265.5" y="343.2" width="4.5" height="1.2"/><rect x="271" y="343.2" width="4.5" height="1.2"/><rect x="277" y="343.2" width="4.5" height="1.2"/><rect x="282" y="343.2" width="4.5" height="1.2"/></g>
  <rect x="261" y="322.6" width="40" height="1" fill="#2a3a5a"/>
  <g fill="none" stroke="#4a7ab0" stroke-width="0.5"><circle cx="292" cy="327.5" r="1.8"/><circle cx="298" cy="327.5" r="1.8"/><circle cx="295" cy="333.5" r="1.8"/></g>
  <g fill="#5a4a3a"><rect x="290" y="338" width="2.5" height="2"/><rect x="294" y="338" width="2.5" height="2"/><rect x="298" y="338" width="2.5" height="2"/><rect x="290" y="343" width="2.5" height="2"/><rect x="294" y="343" width="2.5" height="2"/></g>
  <rect x="298" y="342" width="3" height="3" fill="#3a8ad0"/>
  <g fill="#4a90d8"><circle cx="272" cy="347.4" r="0.8"/></g><g fill="#9ab0c8"><circle cx="275" cy="347.4" r="0.8"/><circle cx="278" cy="347.4" r="0.8"/></g>
</g>


<style>#labels text{stroke:#134a64;stroke-width:0.2;}</style><g id="labels" font-weight="bold" fill="#134a64">
  <path d="M389.6,189 L396.8,181.3 L404,189 Z" fill="#3aa5c3"/>
  <rect x="373.9" y="192.9" width="43.6" height="18" fill="#cde4ee"/>
  <text x="380" y="206.6" font-size="11.2" textLength="33" lengthAdjust="spacingAndGlyphs">生物池</text>

  <rect x="537" y="200.4" width="61.8" height="16.9" fill="#cde4ee"/>
  <text x="539.6" y="213.6" font-size="11.2" textLength="55.5" lengthAdjust="spacingAndGlyphs">气体流量计</text>
  <path d="M603.4,201.5 L611.4,208.9 L603.4,216.3 Z" fill="#3aa5c3"/>

  <rect x="554" y="371" width="41" height="15.8" fill="#cde4ee"/>
  <text x="563.6" y="382.8" font-size="11.2">阀门</text>
  <path d="M603,372 L611.2,379.3 L603,386.5 Z" fill="#3aa5c3"/>

  <path d="M365.2,560.8 L372.6,552.7 L379.9,560.8 Z" fill="#3aa5c3"/>
  <rect x="334.3" y="565.2" width="71.6" height="15.9" fill="#cde4ee"/>
  <text x="343.6" y="578.3" font-size="10.8">鼓风机</text><text x="377.6" y="578.5" font-size="12" textLength="24" lengthAdjust="spacingAndGlyphs">MCP</text>

  <path d="M530.4,560.8 L537.8,552.7 L545.1,560.8 Z" fill="#3aa5c3"/>
  <rect x="502.8" y="565.7" width="71.3" height="15.8" fill="#cde4ee"/>
  <text x="520.8" y="578" font-size="11.2" textLength="34" lengthAdjust="spacingAndGlyphs">鼓风机</text>

  <path d="M624,560.7 L631.1,552.4 L638.2,560.7 Z" fill="#3aa5c3"/>
  <rect x="610.2" y="564.4" width="41.2" height="16.9" fill="#cde4ee"/>
  <text x="614" y="577.5" font-size="11.2" textLength="33.5" lengthAdjust="spacingAndGlyphs">压力计</text>
</g>
<text x="456.9" y="384.3" font-size="9.55" fill="#444">(阀门开度)</text>


<g id="flowmeter">
  <rect x="630.5" y="191" width="4" height="17.5" fill="url(#metalV)"/>
  <rect x="630.5" y="191.6" width="4" height="1.3" fill="#3a5ad0"/>
  <rect x="621.9" y="208.1" width="21.2" height="2.9" fill="#c4c4c4" stroke="#8f8f8f" stroke-width="0.6"/>
  <circle cx="632.5" cy="182.1" r="9.4" fill="url(#ringG)"/>
  <circle cx="632.5" cy="182.1" r="9.4" fill="none" stroke="#888" stroke-width="0.6"/>
  <circle cx="632.5" cy="182.1" r="6.4" fill="url(#faceG)" stroke="#1e1e1e" stroke-width="1.3"/>
  <rect x="627.5" y="181.2" width="10" height="0.9" fill="#555"/>
</g>
<g id="valvegauge">
  <rect x="630" y="381" width="4.5" height="15" fill="url(#metalV)"/>
  <rect x="630" y="381" width="4.5" height="1.4" fill="#d06a3a"/>
  <rect x="621.9" y="395.3" width="21.2" height="3.2" fill="#c4c4c4" stroke="#8f8f8f" stroke-width="0.6"/>
  <circle cx="632.5" cy="370.1" r="10.4" fill="#ffffff" stroke="#5a5a5a" stroke-width="1.1"/>
  <circle cx="632.5" cy="370.1" r="9.3" fill="none" stroke="#d0d0d0" stroke-width="0.8"/>
  <path d="M628,372.6 L634,369.2" stroke="#333" stroke-width="0.9"/>
  <circle cx="634" cy="369.2" r="1" fill="none" stroke="#333" stroke-width="0.6"/>
</g>
<g id="pressure">
  <rect x="622" y="533.8" width="21.2" height="2.9" rx="1.2" fill="#b0b0b0"/>
  <ellipse cx="633.3" cy="527.6" rx="4.5" ry="6" fill="#4a4a4a"/>
  <ellipse cx="634.6" cy="527.8" rx="2.4" ry="4.6" fill="#e6e6e6"/>
  <ellipse cx="632.2" cy="527.6" rx="1.6" ry="5" fill="#2e2e2e"/>
  <rect x="631.6" y="518.6" width="4.6" height="3.4" fill="#5a8a9a"/>
  <rect x="630.8" y="513" width="7.2" height="6" rx="1" fill="#9a9a9a"/>
  <rect x="630.2" y="503" width="9" height="7.6" rx="1.6" fill="#cfcfcf"/>
  <rect x="631.5" y="503.6" width="3.5" height="6.5" fill="#ececec"/>
  <rect x="623.2" y="508.4" width="8" height="6.2" rx="1.5" fill="#f0f0f0" stroke="#a0a0a0" stroke-width="0.4"/>
  <rect x="623.2" y="511.2" width="2.8" height="3.4" fill="#1e1e1e"/>
  <rect x="631" y="510.4" width="8" height="3.2" fill="#b8b8b8"/>
  <path d="M639.6,511 V515.2 M642,511 V515.2 M639.6,515.2 H643.2" stroke="#1e1e1e" stroke-width="1.1" fill="none"/>
</g>


<g id="mcp">
  <g fill="#cfcfcf" stroke="#656565" stroke-width="1.25">
    <rect x="329.9" y="500.2" width="85.2" height="3.6"/>
    <rect x="333.4" y="503.8" width="4.2" height="44"/>
    <rect x="406" y="503.8" width="4.2" height="44"/>
  </g>
  <rect x="334.9" y="503.8" width="1.2" height="43.5" fill="#e6e6e6"/>
  <rect x="407.5" y="503.8" width="1.2" height="43.5" fill="#e6e6e6"/>
  <rect x="343.2" y="511.9" width="19.6" height="33.7" rx="1.5" fill="url(#unitV)"/><rect x="347.0" y="517.7" width="13.1" height="7.2" fill="#767676" stroke="#5a5a5a" stroke-width="0.5"/><rect x="349.3" y="537.1" width="7.6" height="4.5" rx="1" fill="#ffffff" stroke="#8a8a8a" stroke-width="0.6"/><rect x="344.4" y="519.5" width="1.6" height="3" fill="#9a9a9a"/><rect x="344.4" y="538" width="1.6" height="3" fill="#9a9a9a"/><rect x="362.6" y="511.9" width="19.6" height="33.7" rx="1.5" fill="url(#unitV)"/><rect x="366.4" y="517.7" width="13.1" height="7.2" fill="#767676" stroke="#5a5a5a" stroke-width="0.5"/><rect x="368.7" y="537.1" width="7.6" height="4.5" rx="1" fill="#ffffff" stroke="#8a8a8a" stroke-width="0.6"/><rect x="363.8" y="519.5" width="1.6" height="3" fill="#9a9a9a"/><rect x="363.8" y="538" width="1.6" height="3" fill="#9a9a9a"/><rect x="382.0" y="511.9" width="19.6" height="33.7" rx="1.5" fill="url(#unitV)"/><rect x="385.8" y="517.7" width="13.1" height="7.2" fill="#767676" stroke="#5a5a5a" stroke-width="0.5"/><rect x="388.1" y="537.1" width="7.6" height="4.5" rx="1" fill="#ffffff" stroke="#8a8a8a" stroke-width="0.6"/><rect x="383.2" y="519.5" width="1.6" height="3" fill="#9a9a9a"/><rect x="383.2" y="538" width="1.6" height="3" fill="#9a9a9a"/>
  <rect x="341.2" y="545.6" width="62.6" height="3.2" rx="0.5" fill="#b6b6b6"/>
</g>
<g id="blower">
  <g fill="#cfcfcf" stroke="#656565" stroke-width="1.25">
    <rect x="493.5" y="500" width="85.7" height="3.7"/>
    <rect x="497.1" y="503.7" width="4.4" height="44"/>
    <rect x="570.2" y="503.7" width="4.6" height="44"/>
  </g>
  <rect x="498.7" y="503.7" width="1.2" height="43.5" fill="#e6e6e6"/>
  <rect x="571.9" y="503.7" width="1.2" height="43.5" fill="#e6e6e6"/>
  <rect x="508" y="543" width="26" height="3.2" fill="#555a5c"/>
  <rect x="538.6" y="543" width="26" height="3.2" fill="#555a5c"/>
  <rect x="505" y="546" width="62.6" height="2.6" fill="#b6b6b6"/>
  <rect x="508.5" y="510.6" width="15.1" height="32.5" fill="#d1d6d7" stroke="#8f9597" stroke-width="0.8"/>
  <rect x="523.6" y="510.6" width="8.3" height="32.5" fill="#616466"/>
  <rect x="508.5" y="525.2" width="13" height="1.7" fill="#111"/><rect x="523.6" y="525.2" width="2.5" height="1.7" fill="#111"/>
  <ellipse cx="531.2" cy="518" rx="0.8" ry="1.2" fill="#aaa"/><ellipse cx="531.2" cy="535" rx="0.8" ry="1.2" fill="#aaa"/>
  <rect x="539.2" y="510.6" width="15.1" height="32.5" fill="#d1d6d7" stroke="#8f9597" stroke-width="0.8"/>
  <rect x="554.3" y="510.6" width="7.5" height="32.5" fill="#616466"/>
  <rect x="539.2" y="525.2" width="13" height="1.7" fill="#111"/><rect x="554.3" y="525.2" width="2.5" height="1.7" fill="#111"/>
  <ellipse cx="561.6" cy="520" rx="0.8" ry="1.3" fill="#aaa"/><ellipse cx="561.6" cy="535" rx="0.8" ry="1.3" fill="#aaa"/>
</g>


</svg>
</body></html>
